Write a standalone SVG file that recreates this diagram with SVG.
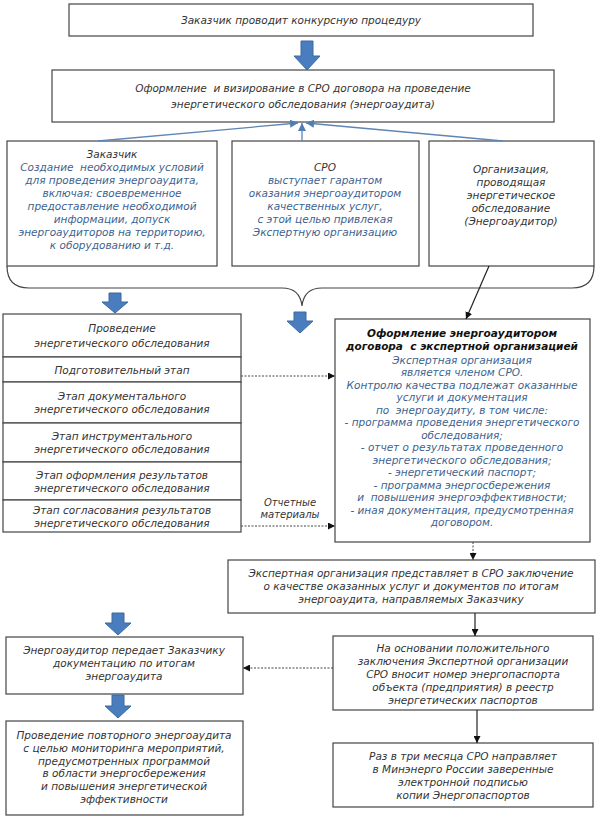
<svg xmlns="http://www.w3.org/2000/svg" width="600" height="821" viewBox="0 0 600 821">
<defs>
<style>
text{font-family:"DejaVu Sans","Noto Sans",sans-serif;font-style:italic;font-size:10.5px;fill:#333;text-anchor:middle;white-space:pre}
.b{fill:#3d6290}
.bold{font-weight:bold;fill:#111}
.sm{font-size:10px}
.box{fill:#fff;stroke:#444;stroke-width:1.2}
.blk{fill:#4a7dbd;stroke:#3b6aa0;stroke-width:1}
.thin{stroke:#5f86b4;stroke-width:1.3;fill:none}
.ln{stroke:#222;stroke-width:1.2;fill:none}
.dash{stroke:#444;stroke-width:1;stroke-dasharray:2 1.5;fill:none}
.brace{stroke:#444;stroke-width:1.2;fill:none}
</style>
<marker id="ah" viewBox="0 0 10 10" refX="10" refY="5" markerWidth="7" markerHeight="7" orient="auto-start-reverse" markerUnits="userSpaceOnUse">
<path d="M0,0 L10,5 L0,10 z" fill="#111"/>
</marker>
<marker id="bh" viewBox="0 0 10 10" refX="10" refY="5" markerWidth="8" markerHeight="8" orient="auto" markerUnits="userSpaceOnUse">
<path d="M0,0 L10,5 L0,10 z" fill="#4f7db5"/>
</marker>
</defs>

<g id="n-top">
<rect class="box" x="69" y="4" width="464" height="32"/>
<text x="301" y="24">Заказчик проводит конкурсную процедуру</text>
</g>

<g id="n-contract">
<rect class="box" x="52" y="70" width="502" height="52"/>
<text x="303" y="92">Оформление  и визирование в СРО договора на проведение</text>
<text x="303" y="108">энергетического обследования (энергоаудита)</text>
</g>

<g id="n-customer">
<rect class="box" x="7" y="141" width="210" height="125"/>
<text x="112" y="158">Заказчик</text>
<text class="b" x="112" y="171">Создание  необходимых условий</text>
<text class="b" x="112" y="184">для проведения энергоаудита,</text>
<text class="b" x="112" y="197">включая: своевременное</text>
<text class="b" x="112" y="210">предоставление необходимой</text>
<text class="b" x="112" y="223">информации, допуск</text>
<text class="b" x="112" y="236">энергоаудиторов на территорию,</text>
<text class="b" x="112" y="249">к оборудованию и т.д.</text>
</g>

<g id="n-sro">
<rect class="box" x="232" y="141" width="187" height="125"/>
<text x="325" y="171">СРО</text>
<text class="b" x="325" y="184">выступает гарантом</text>
<text class="b" x="325" y="197">оказания энергоаудитором</text>
<text class="b" x="325" y="210">качественных услуг,</text>
<text class="b" x="325" y="223">с этой целью привлекая</text>
<text class="b" x="325" y="236">Экспертную организацию</text>
</g>

<g id="n-auditor">
<rect class="box" x="429" y="141" width="165" height="125"/>
<text x="511" y="173">Организация,</text>
<text x="511" y="186">проводящая</text>
<text x="511" y="199">энергетическое</text>
<text x="511" y="212">обследование</text>
<text x="511" y="225">(Энергоаудитор)</text>
</g>

<g id="n-brace">
<path class="brace" d="M7,266 Q7,288 29,288 L282,288 Q300,288 302,306 Q304,288 322,288 L572,288 Q594,288 594,266"/>
</g>

<g id="n-stages">
<rect class="box" x="3" y="314" width="238" height="43"/>
<text x="122" y="332">Проведение</text>
<text x="122" y="347">энергетического обследования</text>
<rect class="box" x="3" y="357" width="238" height="25"/>
<text x="122" y="374">Подготовительный этап</text>
<rect class="box" x="3" y="382" width="238" height="41"/>
<text x="122" y="400">Этап документального</text>
<text x="122" y="413">энергетического обследования</text>
<rect class="box" x="3" y="423" width="238" height="39"/>
<text x="122" y="440">Этап инструментального</text>
<text x="122" y="453">энергетического обследования</text>
<rect class="box" x="3" y="462" width="238" height="38"/>
<text x="122" y="479">Этап оформления результатов</text>
<text x="122" y="492">энергетического обследования</text>
<rect class="box" x="3" y="500" width="238" height="32"/>
<text x="122" y="514">Этап согласования результатов</text>
<text x="122" y="527">энергетического обследования</text>
</g>

<g id="n-expert-contract">
<rect class="box" x="335" y="319" width="255" height="223"/>
<text class="bold" x="462" y="337">Оформление энергоаудитором</text>
<text class="bold" x="462" y="350">договора  с экспертной организацией</text>
<text class="b" x="462" y="364">Экспертная организация</text>
<text class="b" x="462" y="376">является членом СРО.</text>
<text class="b" x="462" y="389">Контролю качества подлежат оказанные</text>
<text class="b" x="462" y="401">услуги и документация</text>
<text class="b" x="462" y="414">по  энергоаудиту, в том числе:</text>
<text class="b" x="462" y="426">- программа проведения энергетического</text>
<text class="b" x="462" y="439">обследования;</text>
<text class="b" x="462" y="451">- отчет о результатах проведенного</text>
<text class="b" x="462" y="464">энергетического обследования;</text>
<text class="b" x="462" y="476">- энергетический паспорт;</text>
<text class="b" x="462" y="489">- программа энергосбережения</text>
<text class="b" x="462" y="501">и  повышения энергоэффективности;</text>
<text class="b" x="462" y="514">- иная документация, предусмотренная</text>
<text class="b" x="462" y="526">договором.</text>
</g>

<g id="n-expert-conclusion">
<rect class="box" x="228" y="560" width="367" height="53"/>
<text x="411" y="577">Экспертная организация представляет в СРО заключение</text>
<text x="411" y="590">о качестве оказанных услуг и документов по итогам</text>
<text x="411" y="603">энергоаудита, направляемых Заказчику</text>
</g>

<g id="n-register">
<rect class="box" x="333" y="636" width="260" height="74"/>
<text x="463" y="652">На основании положительного</text>
<text x="463" y="665">заключения Экспертной организации</text>
<text x="463" y="678">СРО вносит номер энергопаспорта</text>
<text x="463" y="691">объекта (предприятия) в реестр</text>
<text x="463" y="704">энергетических паспортов</text>
</g>

<g id="n-minenergo">
<rect class="box" x="333" y="743" width="260" height="64"/>
<text x="463" y="760">Раз в три месяца СРО направляет</text>
<text x="463" y="773">в Минэнерго России заверенные</text>
<text x="463" y="786">электронной подписью</text>
<text x="463" y="799">копии Энергопаспортов</text>
</g>

<g id="n-handover">
<rect class="box" x="6" y="637" width="237" height="57"/>
<text x="124" y="654">Энергоаудитор передает Заказчику</text>
<text x="124" y="667">документацию по итогам</text>
<text x="124" y="680">энергоаудита</text>
</g>

<g id="n-repeat">
<rect class="box" x="6" y="721" width="237" height="94"/>
<text x="124" y="739">Проведение повторного энергоаудита</text>
<text x="124" y="752">с целью мониторинга мероприятий,</text>
<text x="124" y="765">предусмотренных программой</text>
<text x="124" y="777">в области энергосбережения</text>
<text x="124" y="790">и повышения энергетической</text>
<text x="124" y="803">эффективности</text>
</g>

<g id="connectors">
<path class="blk" d="M301,41 H313 V56 H320 L307,70 L294,56 H301 Z"/>
<path class="blk" d="M109,293 H121 V302 H128 L115,313 L102,302 H109 Z"/>
<path class="blk" d="M294,312 H306 V321 H313 L300,333 L287,321 H294 Z"/>
<path class="blk" d="M112,613 H124 V623 H131 L118,635 L105,623 H112 Z"/>
<path class="blk" d="M112,695 H124 V706 H131 L118,718 L105,706 H112 Z"/>
<line class="thin" x1="98" y1="141" x2="298" y2="123" marker-end="url(#bh)"/>
<line class="thin" x1="302" y1="141" x2="302" y2="123" marker-end="url(#bh)"/>
<line class="thin" x1="503" y1="141" x2="306" y2="123" marker-end="url(#bh)"/>
<line class="ln" x1="489" y1="266" x2="466" y2="319" marker-end="url(#ah)"/>
<line class="dash" x1="241" y1="376" x2="335" y2="376" marker-end="url(#ah)"/>
<line class="dash" x1="241" y1="526" x2="335" y2="526" marker-end="url(#ah)"/>
<text class="sm" x="290" y="506">Отчетные</text>
<text class="sm" x="290" y="518">материалы</text>
<line class="dash" x1="473" y1="542" x2="473" y2="560" marker-end="url(#ah)"/>
<line class="ln" x1="475" y1="613" x2="475" y2="636" marker-end="url(#ah)"/>
<line class="ln" x1="477" y1="710" x2="477" y2="743" marker-end="url(#ah)"/>
<line class="dash" x1="333" y1="668" x2="243" y2="668" marker-end="url(#ah)"/>
</g>
</svg>
